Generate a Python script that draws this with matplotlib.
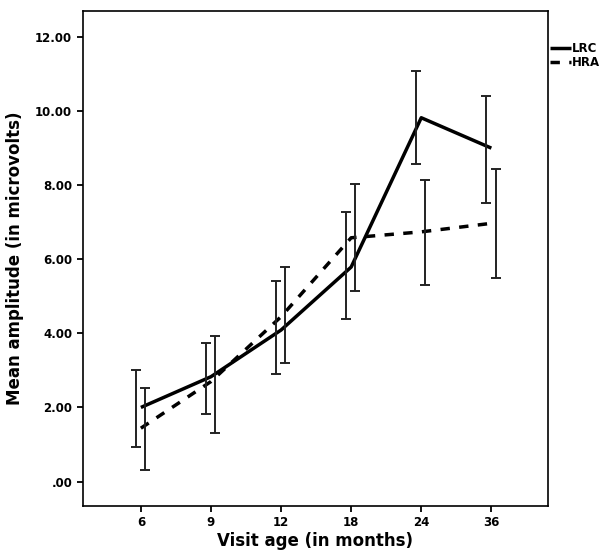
import matplotlib.pyplot as plt
import numpy as np

plt.rcParams["font.family"] = ["DejaVu Sans"]

# visit ages (categorical axis)
ages = ["6", "9", "12", "18", "24", "36"]

# LRC group: means and error bar limits
lrc_mean = [2.00, 2.83, 4.09, 5.79, 9.82, 9.00]
lrc_low = [0.92, 1.82, 2.91, 4.39, 8.56, 7.53]
lrc_high = [3.01, 3.74, 5.40, 7.27, 11.09, 10.42]

# HRA group
hra_mean = [1.44, 2.70, 4.45, 6.58, 6.74, 6.97]
hra_low = [0.32, 1.31, 3.21, 5.15, 5.30, 5.49]
hra_high = [2.52, 3.93, 5.80, 8.03, 8.14, 8.44]

y_ticks = [0, 2, 4, 6, 8, 10, 12]
y_labels = [".00", "2.00", "4.00", "6.00", "8.00", "10.00", "12.00"]

x = np.arange(len(ages))

fig = plt.figure(figsize=(6.05, 5.53), dpi=100)
ax = fig.add_axes([0.1367, 0.085, 0.906 - 0.1367, 0.980 - 0.085])

ax.plot(x, lrc_mean, color="black", lw=2.5, solid_capstyle="butt", label="LRC")
ax.plot(x, hra_mean, color="black", lw=2.5, ls=(0, (2.7, 2.7)),
        dash_capstyle="butt", label="HRA")

# error bars are drawn slightly offset from the category position
lm = np.array(lrc_mean)
hm = np.array(hra_mean)
ax.errorbar(x - 0.07, lm, yerr=[lm - np.array(lrc_low), np.array(lrc_high) - lm],
            fmt="none", ecolor="#222222", elinewidth=1.4, capsize=3.6, capthick=1.4)
ax.errorbar(x + 0.06, hm, yerr=[hm - np.array(hra_low), np.array(hra_high) - hm],
            fmt="none", ecolor="#222222", elinewidth=1.4, capsize=3.6, capthick=1.4)

ax.set_xlim(-0.83, 5.81)
ax.set_ylim(-0.66, 12.70)
ax.set_xticks(x)
ax.set_xticklabels(ages)
ax.set_yticks(y_ticks)
ax.set_yticklabels(y_labels)
ax.tick_params(direction="out", length=4, width=1.3, labelsize=8.5)
for lab in ax.get_xticklabels() + ax.get_yticklabels():
    lab.set_fontweight("bold")
for sp in ax.spines.values():
    sp.set_linewidth(1.2)

ax.set_xlabel("Visit age (in months)", fontsize=12, fontweight="bold", labelpad=2)
ax.set_ylabel("Mean amplitude (in microvolts)", fontsize=12, fontweight="bold", labelpad=8)

leg = ax.legend(loc="upper left", bbox_to_anchor=(1.005, 0.937), frameon=False,
                handlelength=1.7, handletextpad=0.15, labelspacing=0.1,
                borderaxespad=0, borderpad=0, prop={"size": 8.5, "weight": "bold"})

plt.savefig("out.png", dpi=100)
